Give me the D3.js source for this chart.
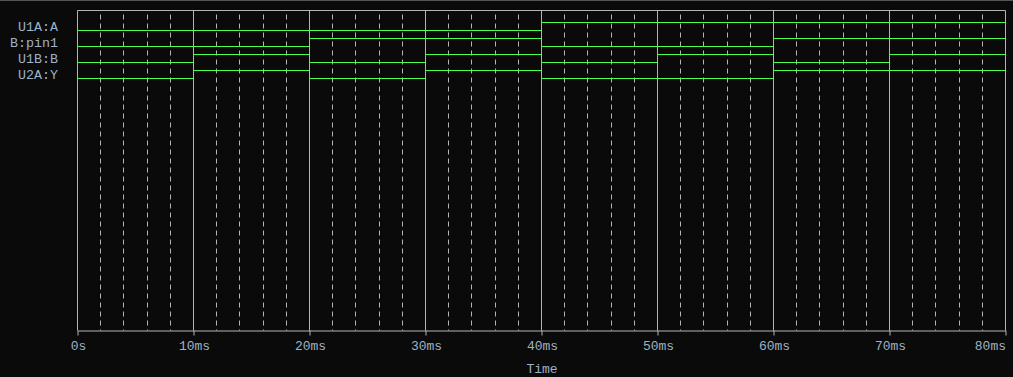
<!DOCTYPE html>
<html>
<head>
<meta charset="utf-8">
<script src="https://cdn.jsdelivr.net/npm/d3@7"></script>
<style>
  html, body { margin: 0; padding: 0; background: #0a0a0a; }
  svg { display: block; }
</style>
</head>
<body>
<div id="chart"></div>
<script>
// ---- data ----
const times = [0, 10, 20, 30, 40, 50, 60, 70, 80];          // ms
const signalNames = ["U1A:A", "B:pin1", "U1B:B", "U2A:Y"];
const U1A_A  = [0, 0, 0, 0, 1, 1, 1, 1, 1];
const B_pin1 = [0, 0, 1, 1, 0, 0, 1, 1, 0];
const U1B_B  = [0, 1, 0, 1, 0, 1, 0, 1, 1];
const U2A_Y  = [0, 1, 0, 1, 0, 0, 1, 1, 1];
const seriesValues = [U1A_A, B_pin1, U1B_B, U2A_Y];
const majorTicks = [0, 10, 20, 30, 40, 50, 60, 70, 80];
const tickLabels = ["0s", "10ms", "20ms", "30ms", "40ms", "50ms", "60ms", "70ms", "80ms"];
const minorTicks = [2, 4, 6, 8, 12, 14, 16, 18, 22, 24, 26, 28, 32, 34, 36, 38,
                    42, 44, 46, 48, 52, 54, 56, 58, 62, 64, 66, 68, 72, 74, 76, 78];
const axisTitle = "Time";

(function () {
// ---- layout ----
const W = 1013, H = 377;
const pLeft = 77.5, pRight = 1005.5, pTop = 10.5, pBottom = 330.5;
const gridCol = "#b4b4b4", textCol = "#9fb2c6", green = "#4cff4c";
const font = "'Liberation Mono', 'Courier New', monospace";

const svg = d3.select("#chart").append("svg").attr("width", W).attr("height", H);
svg.append("rect").attr("width", W).attr("height", H).attr("fill", "#0a0a0a");
// window top border
svg.append("line").attr("x1", 0).attr("x2", W).attr("y1", 0.5).attr("y2", 0.5)
   .attr("stroke", "#555").attr("stroke-width", 1);

const x = d3.scaleLinear().domain([0, 80]).range([pLeft, pRight]);
const rowY = d3.scalePoint().domain(signalNames).range([30.5, 78.5]);
const level = d3.scaleLinear().domain([0, 1]).range([0, -8]);
const px = d => Math.round(x(d) - 0.5) + 0.5;

// minor dashed grid
svg.append("g").selectAll("line").data(minorTicks).join("line")
  .attr("x1", px).attr("x2", px)
  .attr("y1", pTop + 4).attr("y2", pBottom)
  .attr("stroke", gridCol).attr("stroke-width", 1).attr("stroke-dasharray", "5,4");

// major solid grid
svg.append("g").selectAll("line").data(majorTicks.slice(1, -1)).join("line")
  .attr("x1", px).attr("x2", px)
  .attr("y1", pTop).attr("y2", pBottom)
  .attr("stroke", gridCol).attr("stroke-width", 1);

// frame (left, top, right)
svg.append("path")
  .attr("d", `M${pLeft},${pBottom}V${pTop}H${pRight}V${pBottom}`)
  .attr("fill", "none").attr("stroke", gridCol).attr("stroke-width", 1);

// bottom axis
const axis = d3.axisBottom(x)
  .tickValues(majorTicks)
  .tickSize(5).tickSizeOuter(0)
  .tickPadding(6)
  .tickFormat((d, i) => tickLabels[i]);
const ag = svg.append("g").attr("transform", `translate(0,${pBottom})`).call(axis);
ag.select(".domain").attr("stroke", gridCol);
ag.selectAll(".tick line").attr("stroke", gridCol);
ag.selectAll(".tick text")
  .attr("fill", textCol).attr("font-family", font).attr("font-size", "13px")
  .attr("dy", null).attr("y", 19.5)
  .attr("text-anchor", (d, i) => i === majorTicks.length - 1 ? "end" : "middle")
  .attr("dx", (d, i) => i === majorTicks.length - 1 ? 0 : 0.5);

svg.append("text")
  .attr("x", (pLeft + pRight) / 2 + 0.5).attr("y", 373)
  .attr("text-anchor", "middle")
  .attr("fill", textCol).attr("font-family", font).attr("font-size", "13px")
  .text(axisTitle);

// signal labels
svg.append("g").selectAll("text").data(signalNames).join("text")
  .attr("x", 58).attr("y", d => rowY(d) + 0.7)
  .attr("text-anchor", "end")
  .attr("fill", textCol).attr("font-family", font).attr("font-size", "13.3px")
  .text(d => d);

// digital waveforms
const line = d3.line().curve(d3.curveStepAfter);
signalNames.forEach((name, si) => {
  const base = rowY(name);
  const pts = times.map((t, i) => [x(t), base + level(seriesValues[si][i])]);
  svg.append("path")
    .attr("d", line(pts))
    .attr("fill", "none")
    .attr("stroke", green).attr("stroke-width", 1);
});
})();
</script>
</body>
</html>
